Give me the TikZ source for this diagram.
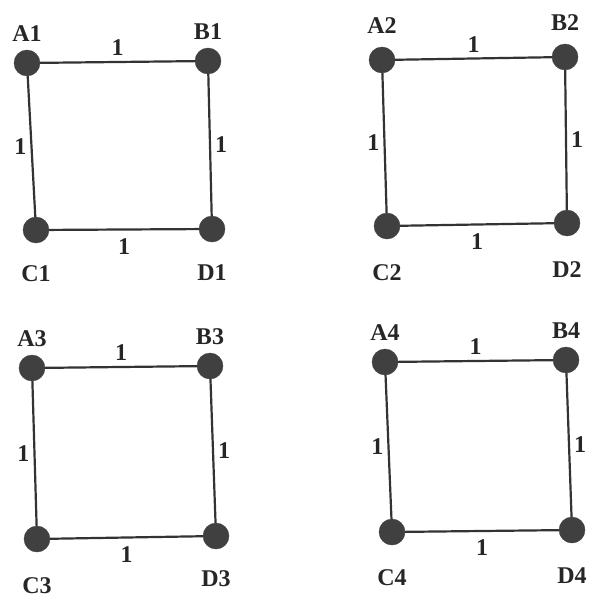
\documentclass[tikz,border=0pt]{standalone}
\usepackage{fontspec}
\setmainfont{Liberation Serif}
\tikzset{
  vtx/.style={circle,fill=black!75,draw=black!75,minimum size=26pt,inner sep=0pt},
  lbl/.style={font=\bfseries\fontsize{24}{24}\selectfont,text=black!85,inner sep=2pt},
  wt/.style={font=\bfseries\fontsize{24}{24}\selectfont,text=black!85,inner sep=2pt},
  edge/.style={line width=2.2pt,black!80}
}
\begin{document}
\begin{tikzpicture}[x=1pt,y=-1pt]
\useasboundingbox (0,0) rectangle (594,599);
% square 1
\node[vtx,label={[lbl,label distance=6pt]above:A1}] (A1) at (27,63) {};
\node[vtx,label={[lbl,label distance=6pt]above:B1}] (B1) at (208,61) {};
\node[vtx,label={[lbl,label distance=20pt]below:C1}] (C1) at (36,230) {};
\node[vtx,label={[lbl,label distance=20pt]below:D1}] (D1) at (212,229) {};
% square 2
\node[vtx,label={[lbl,label distance=11pt]above:A2}] (A2) at (382,60) {};
\node[vtx,label={[lbl,label distance=11pt]above:B2}] (B2) at (565,57) {};
\node[vtx,label={[lbl,label distance=23pt]below:C2}] (C2) at (387,226) {};
\node[vtx,label={[lbl,label distance=23pt]below:D2}] (D2) at (567,223) {};
% square 3
\node[vtx,label={[lbl,label distance=6pt]above:A3}] (A3) at (32,368) {};
\node[vtx,label={[lbl,label distance=6pt]above:B3}] (B3) at (210,366) {};
\node[vtx,label={[lbl,label distance=23pt]below:C3}] (C3) at (37,539) {};
\node[vtx,label={[lbl,label distance=19pt]below:D3}] (D3) at (216,536) {};
% square 4
\node[vtx,label={[lbl,label distance=6pt]above:A4}] (A4) at (385,362) {};
\node[vtx,label={[lbl,label distance=6pt]above:B4}] (B4) at (566,360) {};
\node[vtx,label={[lbl,label distance=22pt]below:C4}] (C4) at (392,532) {};
\node[vtx,label={[lbl,label distance=22pt]below:D4}] (D4) at (572,530) {};
% edges
\foreach \n in {1,...,4}
  \draw[edge] (A\n) -- node[wt,above=3pt]{1} (B\n)
    -- node[wt,right=2pt]{1} (D\n)
    -- node[wt,below=6pt]{1} (C\n)
    -- node[wt,left=2pt]{1} (A\n);
\end{tikzpicture}
\end{document}
